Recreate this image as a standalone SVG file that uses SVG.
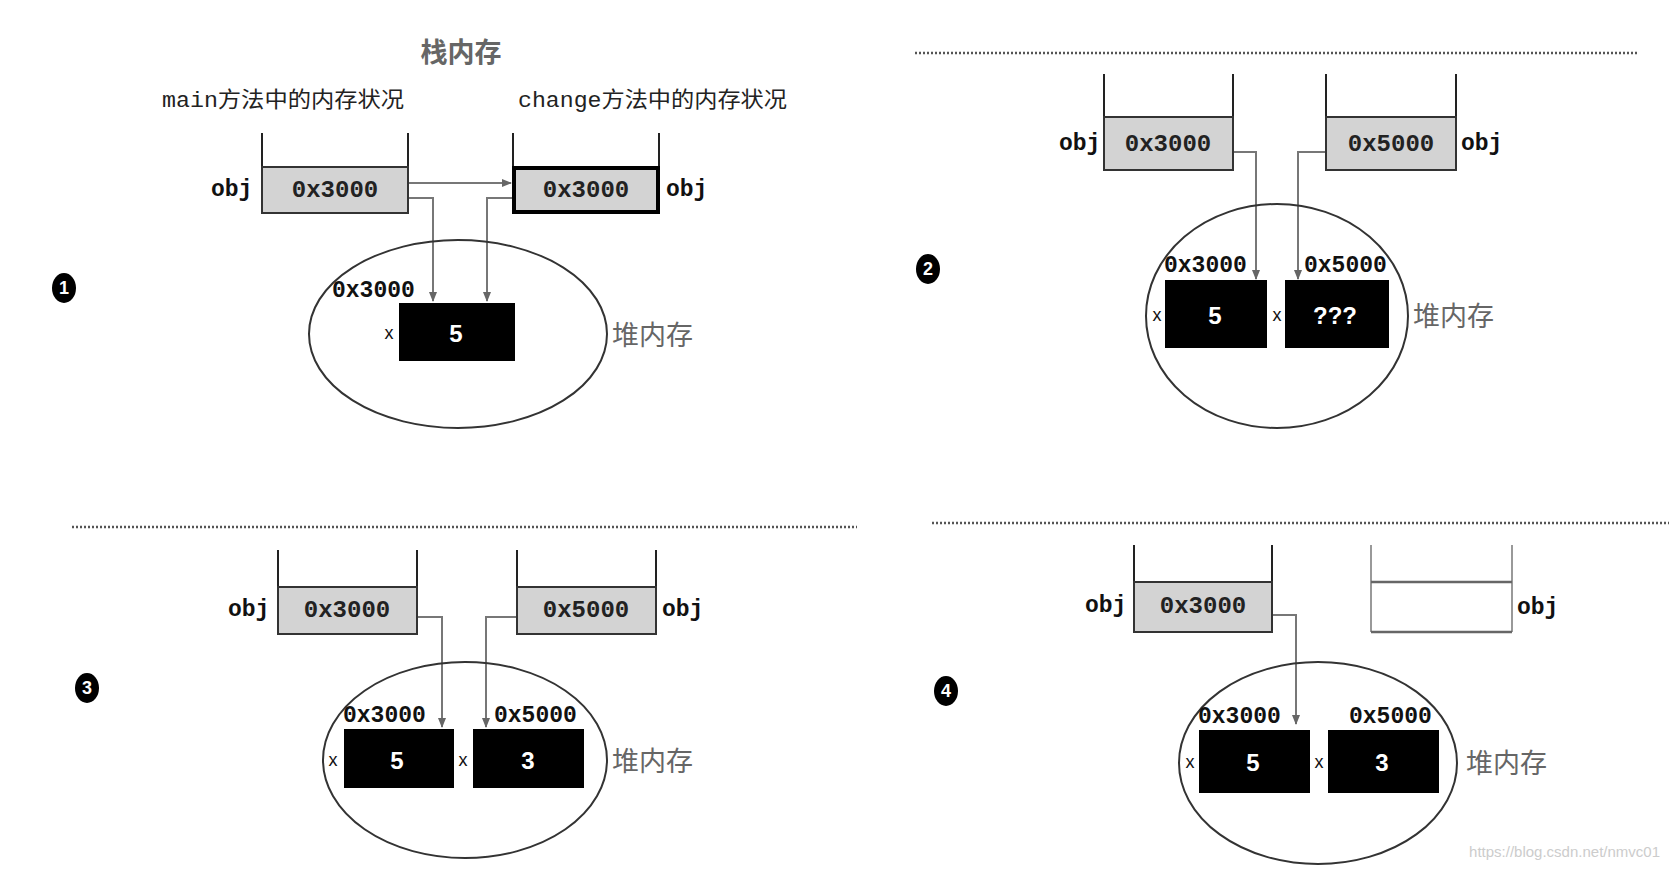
<svg xmlns="http://www.w3.org/2000/svg" width="1669" height="876" viewBox="0 0 1669 876">
<defs>
<marker id="ah" viewBox="0 0 10 10" refX="9" refY="5" markerWidth="5" markerHeight="5" orient="auto"><path d="M0,1 L10,5 L0,9 z" fill="#666"/></marker>
<style>
.wall{stroke:#222;stroke-width:2;fill:none}
.box{fill:#d3d3d3;stroke:#333;stroke-width:2}
.tbox{fill:#d3d3d3;stroke:#000;stroke-width:4}
.val{font-family:"Liberation Mono",monospace;font-weight:bold;font-size:24px;fill:#222;text-anchor:middle;dominant-baseline:central}
.obj{font-family:"Liberation Mono",monospace;font-weight:bold;font-size:23px;fill:#111;dominant-baseline:central}
.addr{font-family:"Liberation Mono",monospace;font-weight:bold;font-size:23px;fill:#111;dominant-baseline:central}
.cell{fill:#000}
.num{font-family:"Liberation Sans",sans-serif;font-weight:bold;font-size:24px;fill:#fff;text-anchor:middle;dominant-baseline:central}
.x{font-family:"Liberation Sans",sans-serif;font-size:18px;fill:#111;text-anchor:middle;dominant-baseline:central}
.heap{font-family:"Noto Sans CJK SC",sans-serif;font-size:27px;fill:#666;dominant-baseline:central}
.cap{font-family:"Liberation Mono","Noto Sans CJK SC",monospace;font-size:22px;fill:#222;dominant-baseline:central}
.ell{fill:none;stroke:#333;stroke-width:2}
.con{fill:none;stroke:#777;stroke-width:2}
.dot{stroke:#555;stroke-width:2.5;stroke-dasharray:2 2}
.badge{fill:#000}
.bn{font-family:"Liberation Sans",sans-serif;font-weight:bold;font-size:18px;fill:#fff;text-anchor:middle;dominant-baseline:central}
</style>
</defs>
<rect width="1669" height="876" fill="#fff"/>

<g id="connectors">
<line class="dot" x1="915" y1="53" x2="1639" y2="53"/>
<line class="dot" x1="72" y1="527" x2="857" y2="527"/>
<line class="dot" x1="932" y1="523" x2="1669" y2="523"/>
<path class="con" d="M408,183 H511" marker-end="url(#ah)"/>
<path class="con" d="M408,198 H433 V301" marker-end="url(#ah)"/>
<path class="con" d="M513,198 H487 V301" marker-end="url(#ah)"/>
<path class="con" d="M1233,152 H1256 V279" marker-end="url(#ah)"/>
<path class="con" d="M1326,152 H1298 V279" marker-end="url(#ah)"/>
<path class="con" d="M417,617 H442 V727" marker-end="url(#ah)"/>
<path class="con" d="M517,617 H486 V727" marker-end="url(#ah)"/>
<path class="con" d="M1272,615 H1296 V724" marker-end="url(#ah)"/>
</g>

<g id="panel1">
<text x="461" y="50" class="heap" text-anchor="middle" font-weight="bold">栈内存</text>
<text x="162" y="101" class="cap" textLength="242" lengthAdjust="spacingAndGlyphs">main方法中的内存状况</text>
<text x="518" y="101" class="cap" textLength="269" lengthAdjust="spacingAndGlyphs">change方法中的内存状况</text>
<g id="p1-main-stack"><path class="wall" d="M262,133 V213 M408,133 V213"/><rect class="box" x="262" y="167" width="146" height="46"/><text class="val" x="335" y="190">0x3000</text><text class="obj" x="211" y="190">obj</text></g>
<g id="p1-change-stack"><path class="wall" d="M513,133 V213 M659,133 V213"/><rect class="tbox" x="514" y="168" width="144" height="44"/><text class="val" x="586" y="190">0x3000</text><text class="obj" x="666" y="190">obj</text></g>
<g id="p1-heap"><ellipse class="ell" cx="458" cy="334" rx="149" ry="94"/><text class="heap" x="612" y="333">堆内存</text></g>
<g id="p1-cell"><rect class="cell" x="399" y="303" width="116" height="58"/><text class="num" x="456" y="333">5</text><text class="addr" x="332" y="291">0x3000</text><text class="x" x="389" y="333">x</text></g>
<g id="badge1"><ellipse class="badge" cx="64" cy="288" rx="12" ry="15"/><text class="bn" x="64" y="288">1</text></g>
</g>

<g id="panel2">
<g id="p2-main-stack"><path class="wall" d="M1104,74 V170 M1233,74 V170"/><rect class="box" x="1104" y="117" width="129" height="53"/><text class="val" x="1168" y="144">0x3000</text><text class="obj" x="1059" y="144">obj</text></g>
<g id="p2-change-stack"><path class="wall" d="M1326,74 V170 M1456,74 V170"/><rect class="box" x="1326" y="117" width="130" height="53"/><text class="val" x="1391" y="144">0x5000</text><text class="obj" x="1461" y="144">obj</text></g>
<g id="p2-heap"><ellipse class="ell" cx="1277" cy="316" rx="131" ry="112"/><text class="heap" x="1413" y="314">堆内存</text></g>
<g id="p2-cell1"><rect class="cell" x="1165" y="280" width="102" height="68"/><text class="num" x="1215" y="315">5</text><text class="addr" x="1164" y="266">0x3000</text><text class="x" x="1157" y="315">x</text></g>
<g id="p2-cell2"><rect class="cell" x="1285" y="280" width="104" height="68"/><text class="num" x="1335" y="315">???</text><text class="addr" x="1304" y="266">0x5000</text><text class="x" x="1277" y="315">x</text></g>
<g id="badge2"><ellipse class="badge" cx="928" cy="269" rx="12" ry="15"/><text class="bn" x="928" y="269">2</text></g>
</g>

<g id="panel3">
<g id="p3-main-stack"><path class="wall" d="M278,550 V634 M417,550 V634"/><rect class="box" x="278" y="587" width="139" height="47"/><text class="val" x="347" y="610">0x3000</text><text class="obj" x="228" y="610">obj</text></g>
<g id="p3-change-stack"><path class="wall" d="M517,550 V634 M656,550 V634"/><rect class="box" x="517" y="587" width="139" height="47"/><text class="val" x="586" y="610">0x5000</text><text class="obj" x="662" y="610">obj</text></g>
<g id="p3-heap"><ellipse class="ell" cx="465" cy="760" rx="142" ry="98"/><text class="heap" x="612" y="759">堆内存</text></g>
<g id="p3-cell1"><rect class="cell" x="344" y="729" width="110" height="59"/><text class="num" x="397" y="760">5</text><text class="addr" x="343" y="716">0x3000</text><text class="x" x="333" y="760">x</text></g>
<g id="p3-cell2"><rect class="cell" x="473" y="729" width="111" height="59"/><text class="num" x="528" y="760">3</text><text class="addr" x="494" y="716">0x5000</text><text class="x" x="463" y="760">x</text></g>
<g id="badge3"><ellipse class="badge" cx="87" cy="688" rx="12" ry="15"/><text class="bn" x="87" y="688">3</text></g>
</g>

<g id="panel4">
<g id="p4-main-stack"><path class="wall" d="M1134,545 V632 M1272,545 V632"/><rect class="box" x="1134" y="582" width="138" height="50"/><text class="val" x="1203" y="606">0x3000</text><text class="obj" x="1085" y="606">obj</text></g>
<g id="p4-change-stack"><path d="M1371,545 V632 M1512,545 V632" stroke="#999" stroke-width="2" fill="none"/><path d="M1371,582 H1512 M1371,632 H1512" stroke="#666" stroke-width="2.5" fill="none"/><text class="obj" x="1517" y="608">obj</text></g>
<g id="p4-heap"><ellipse class="ell" cx="1318" cy="763" rx="139" ry="101"/><text class="heap" x="1466" y="761">堆内存</text></g>
<g id="p4-cell1"><rect class="cell" x="1199" y="730" width="111" height="63"/><text class="num" x="1253" y="762">5</text><text class="addr" x="1198" y="717">0x3000</text><text class="x" x="1190" y="762">x</text></g>
<g id="p4-cell2"><rect class="cell" x="1328" y="730" width="111" height="63"/><text class="num" x="1382" y="762">3</text><text class="addr" x="1349" y="717">0x5000</text><text class="x" x="1319" y="762">x</text></g>
<g id="badge4"><ellipse class="badge" cx="946" cy="691" rx="12" ry="15"/><text class="bn" x="946" y="691">4</text></g>
</g>

<text x="1660" y="857" text-anchor="end" font-family="Liberation Sans, sans-serif" font-size="15" fill="#ccc">https://blog.csdn.net/nmvc01</text>
</svg>
